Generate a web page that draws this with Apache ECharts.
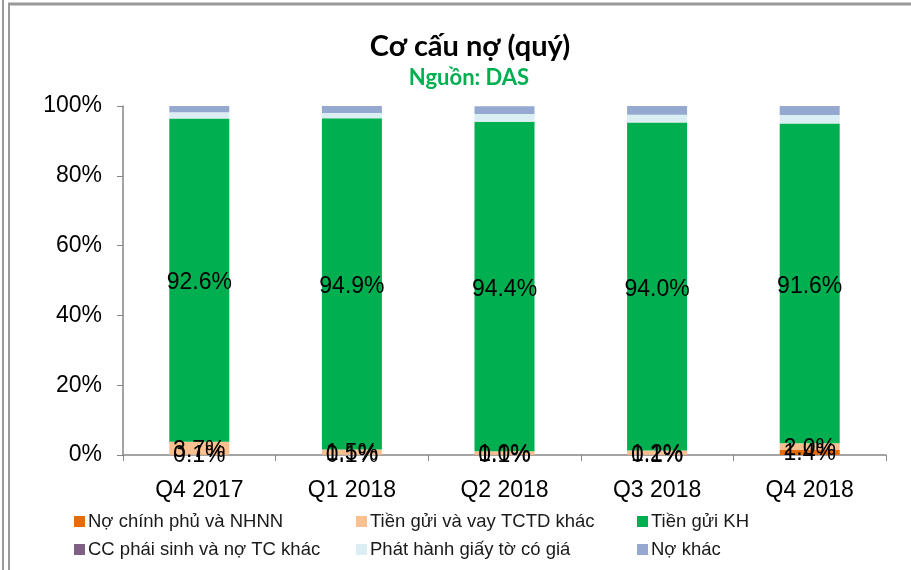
<!DOCTYPE html>
<html lang="vi">

<head>
    <meta charset="UTF-8">
    <title>Cơ cấu nợ (quý)</title>
    <script src="https://cdn.jsdelivr.net/npm/echarts@6/dist/echarts.min.js"></script>
    <style>
        body { margin: 0; background: #fff; }
        #chart { width: 911px; height: 570px; }
    </style>
</head>

<body>
    <div id="chart"></div>
    <script>
        var mCharts = echarts.init(document.getElementById('chart'))

        // dữ liệu (%)
        var quarters = ['Q4 2017', 'Q1 2018', 'Q2 2018', 'Q3 2018', 'Q4 2018']
        var noChinhPhu = [0.1, 0.1, 0.1, 0.1, 1.4]
        var tienGuiTCTD = [3.7, 1.5, 1.0, 1.2, 2.0]
        var tienGuiKH = [92.6, 94.9, 94.4, 94.0, 91.6]
        var phaiSinh = [0, 0, 0, 0, 0]
        var giayToCoGia = [1.8, 1.5, 2.2, 2.2, 2.4]
        var noKhac = [1.8, 2.0, 2.2, 2.5, 2.6]
        var yTicks = [0, 20, 40, 60, 80, 100]

        var names = ['Nợ chính phủ và NHNN', 'Tiền gửi và vay TCTD khác', 'Tiền gửi KH',
            'CC phái sinh và nợ TC khác', 'Phát hành giấy tờ có giá', 'Nợ khác'
        ]
        var colors = ['#E46C0A', '#FAC090', '#00B050', '#7F6084', '#DAEEF3', '#95A9D0']
        var values = [noChinhPhu, tienGuiTCTD, tienGuiKH, phaiSinh, giayToCoGia, noKhac]
        var showLabel = [true, true, true, false, false, false]
        var labelOffset = [[0, 1], [0, 2], [0, 3], [0, 0], [0, 0], [0, 0]]

        var series = names.map(function(n, i) {
            return {
                name: n,
                type: 'bar',
                stack: 'total',
                barWidth: 60,
                data: values[i],
                itemStyle: { color: colors[i] },
                label: {
                    show: showLabel[i],
                    position: 'inside',
                    offset: labelOffset[i],
                    color: '#000',
                    fontFamily: 'Liberation Sans',
                    fontSize: 23,
                    formatter: function(arg) {
                        return arg.value.toFixed(1) + '%'
                    }
                }
            }
        })

        // chú thích: 2 hàng x 3 cột
        var legendPos = [
            [74, 512], [356, 512], [637, 512],
            [74, 540], [356, 540], [637, 540]
        ]
        var legends = names.map(function(n, i) {
            return {
                data: [n],
                left: legendPos[i][0],
                top: legendPos[i][1],
                itemWidth: 11,
                itemHeight: 11,
                icon: 'rect',
                padding: 0,
                textStyle: {
                    fontFamily: 'Liberation Sans',
                    fontSize: 18.5,
                    color: '#1a1a1a',
                    padding: [0, 0, 0, -2]
                }
            }
        })

        var option = {
            animation: false,
            title: [{
                text: 'Cơ cấu nợ (quý)',
                left: 465,
                top: 27,
                textAlign: 'center',
                textStyle: {
                    fontFamily: 'Lato',
                    fontWeight: 'bold',
                    fontSize: 29,
                    color: '#000'
                }
            }, {
                text: 'Nguồn: DAS',
                left: 464,
                top: 62,
                textAlign: 'center',
                textStyle: {
                    fontFamily: 'Lato',
                    fontWeight: 'bold',
                    fontSize: 22,
                    color: '#00B050'
                }
            }],
            legend: legends,
            grid: {
                left: 123,
                right: 25,
                top: 106,
                bottom: 115
            },
            xAxis: {
                type: 'category',
                data: quarters,
                axisLine: { lineStyle: { color: '#868686', width: 1.5 } },
                axisTick: { show: true, length: 6, lineStyle: { color: '#868686' } },
                axisLabel: {
                    fontFamily: 'Liberation Sans',
                    fontSize: 23,
                    color: '#000',
                    margin: 24
                }
            },
            yAxis: {
                type: 'value',
                min: yTicks[0],
                max: yTicks[yTicks.length - 1],
                interval: 20,
                splitLine: { show: false },
                axisLine: { show: true, lineStyle: { color: '#868686', width: 1.5 } },
                axisTick: { show: true, length: 6, lineStyle: { color: '#868686' } },
                axisLabel: {
                    fontFamily: 'Liberation Sans',
                    fontSize: 23,
                    color: '#000',
                    margin: 21,
                    formatter: '{value}%'
                }
            },
            graphic: [{
                type: 'line',
                shape: { x1: 3, y1: 0, x2: 3, y2: 570 },
                style: { stroke: '#9a9a9a', lineWidth: 2 }
            }, {
                type: 'line',
                shape: { x1: 9, y1: 4, x2: 9, y2: 570 },
                style: { stroke: '#9a9a9a', lineWidth: 2 }
            }, {
                type: 'line',
                shape: { x1: 8, y1: 4, x2: 911, y2: 4 },
                style: { stroke: '#9a9a9a', lineWidth: 3 }
            }],
            series: series
        }
        mCharts.setOption(option)
    </script>
</body>

</html>
